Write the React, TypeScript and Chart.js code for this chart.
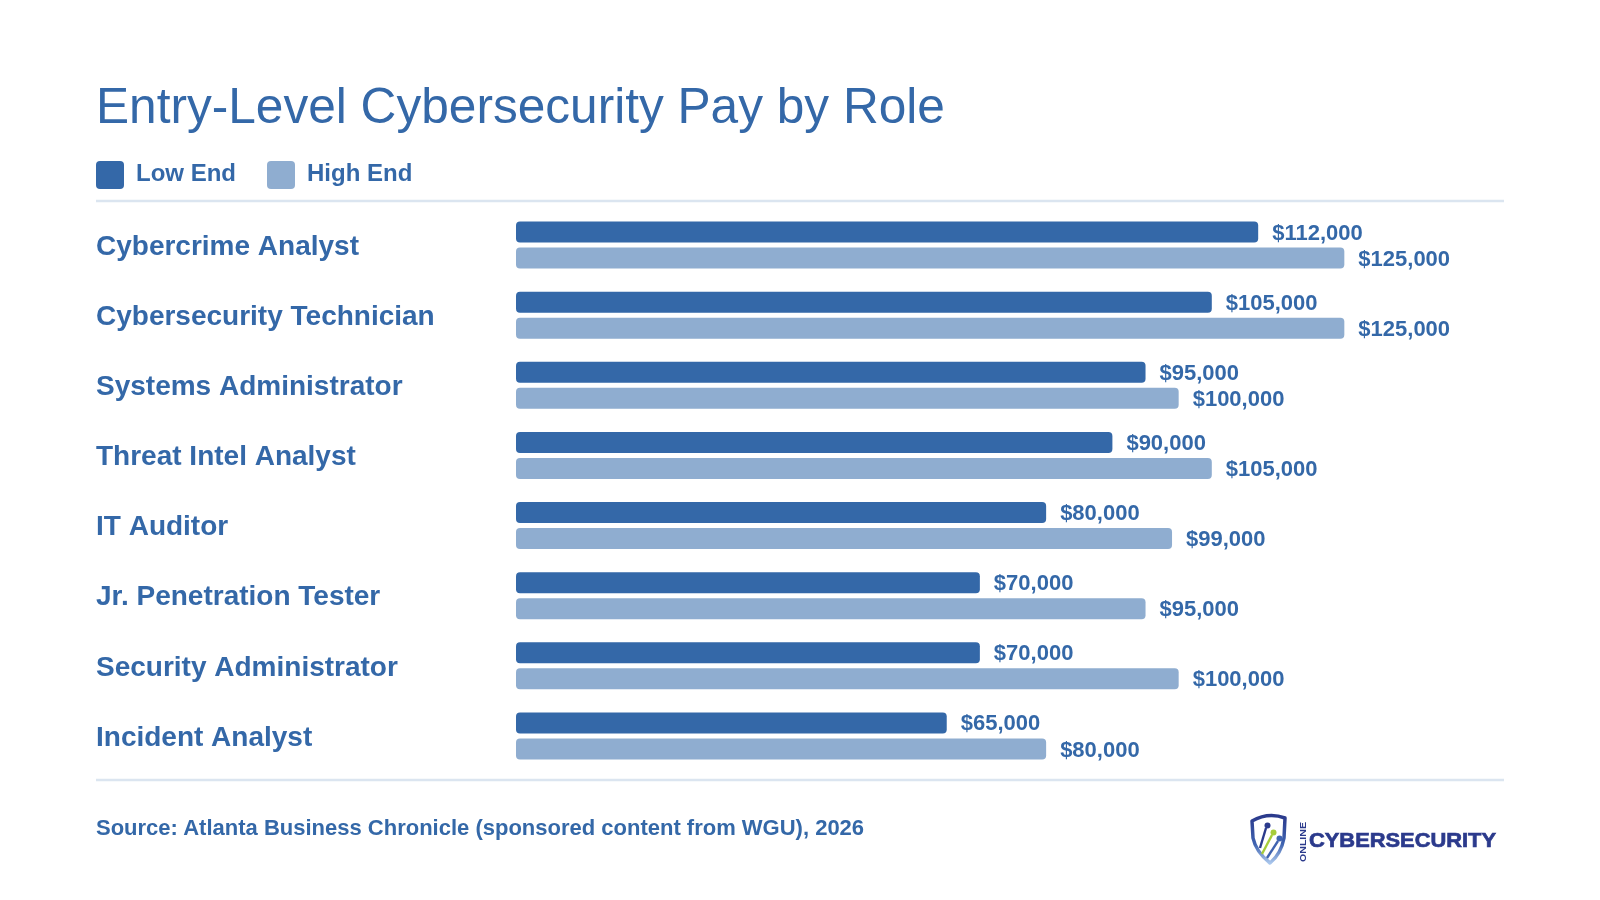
import React, { useEffect, useRef } from "react";
import { Chart, registerables } from "chart.js";

Chart.register(...registerables);

// Entry-level salary ranges by role (USD)
const roles = [
  "Cybercrime Analyst",
  "Cybersecurity Technician",
  "Systems Administrator",
  "Threat Intel Analyst",
  "IT Auditor",
  "Jr. Penetration Tester",
  "Security Administrator",
  "Incident Analyst",
];
const lowEnd = [112000, 105000, 95000, 90000, 80000, 70000, 70000, 65000];
const highEnd = [125000, 125000, 100000, 105000, 99000, 95000, 100000, 80000];
const seriesNames = ["Low End", "High End"];

const TITLE = "Entry-Level Cybersecurity Pay by Role";
const SOURCE = "Source: Atlanta Business Chronicle (sponsored content from WGU), 2026";

const LOW_COLOR = "#3468a8";
const HIGH_COLOR = "#8fadd0";
const TEXT_COLOR = "#3468a8";
const RULE_COLOR = "#dbe5f0";
const FONT = "'Liberation Sans', Arial, Helvetica, sans-serif";

const money = (v: number) => "$" + v.toLocaleString("en-US");

// Writes the dollar amount just past the end of every bar
const valueLabels = {
  id: "valueLabels",
  afterDatasetsDraw(chart: any) {
    const ctx = chart.ctx;
    ctx.save();
    ctx.font = `bold 22px ${FONT}`;
    ctx.fillStyle = TEXT_COLOR;
    ctx.textAlign = "left";
    ctx.textBaseline = "middle";
    chart.data.datasets.forEach((ds: any, di: number) => {
      const meta = chart.getDatasetMeta(di);
      meta.data.forEach((bar: any, i: number) => {
        ctx.fillText(money(ds.data[i]), bar.x + 14, bar.y + 1.5);
      });
    });
    ctx.restore();
  },
};

function PayChart() {
  const ref = useRef<HTMLCanvasElement | null>(null);

  useEffect(() => {
    if (!ref.current) return;
    const chart = new Chart(ref.current, {
      type: "bar",
      data: {
        labels: roles,
        datasets: [
          {
            label: seriesNames[0],
            data: lowEnd,
            backgroundColor: LOW_COLOR,
            borderRadius: 4,
            borderSkipped: false,
            categoryPercentage: 0.742,
            barPercentage: 0.808,
          },
          {
            label: seriesNames[1],
            data: highEnd,
            backgroundColor: HIGH_COLOR,
            borderRadius: 4,
            borderSkipped: false,
            categoryPercentage: 0.742,
            barPercentage: 0.808,
          },
        ],
      },
      options: {
        indexAxis: "y",
        responsive: false,
        animation: false,
        devicePixelRatio: 1,
        layout: { padding: { left: 96, right: 90, top: 210, bottom: 129 } },
        scales: {
          x: { display: false, min: 0, max: 150000 },
          y: {
            grid: { display: false },
            border: { display: false },
            ticks: {
              crossAlign: "far",
              color: TEXT_COLOR,
              padding: 0,
              labelOffset: 2,
              font: { family: FONT, size: 28, weight: "bold" },
            },
            afterFit: (scale: any) => {
              scale.width = 420;
            },
          },
        },
        plugins: {
          legend: { display: false },
          tooltip: { enabled: false },
        },
      },
      plugins: [valueLabels],
    } as any);
    return () => chart.destroy();
  }, []);

  return (
    <canvas
      ref={ref}
      width={1600}
      height={900}
      style={{ position: "absolute", left: 0, top: 0, width: 1600, height: 900 }}
    />
  );
}

function Heading() {
  return (
    <svg
      width={1600}
      height={900}
      style={{ position: "absolute", left: 0, top: 0, pointerEvents: "none" }}
    >
      <defs>
        <linearGradient id="shieldGrad" x1="0" y1="0" x2="0" y2="1">
          <stop offset="0" stopColor="#2b3a8c" />
          <stop offset="0.6" stopColor="#3f63b0" />
          <stop offset="1" stopColor="#a9c6ec" />
        </linearGradient>
      </defs>

      <text x={96} y={122.5} fill={TEXT_COLOR} fontFamily={FONT} fontSize={49.6}>
        {TITLE}
      </text>

      <rect x={96} y={161} width={28} height={28} rx={4} fill={LOW_COLOR} />
      <text x={136} y={181} fill={TEXT_COLOR} fontFamily={FONT} fontSize={24} fontWeight="bold">
        {seriesNames[0]}
      </text>
      <rect x={267} y={161} width={28} height={28} rx={4} fill={HIGH_COLOR} />
      <text x={307} y={181} fill={TEXT_COLOR} fontFamily={FONT} fontSize={24} fontWeight="bold">
        {seriesNames[1]}
      </text>

      <line x1={96} y1={201} x2={1504} y2={201} stroke={RULE_COLOR} strokeWidth={2.5} />
      <line x1={96} y1={780} x2={1504} y2={780} stroke={RULE_COLOR} strokeWidth={2.5} />

      <text x={96} y={835} fill={TEXT_COLOR} fontFamily={FONT} fontSize={22} fontWeight="bold">
        {SOURCE}
      </text>

      {/* brand mark */}
      <path
        d="M1252,821 Q1268,812 1285,818 L1284,838 Q1281,854 1270,863 Q1256,852 1253,838 Z"
        fill="none"
        stroke="url(#shieldGrad)"
        strokeWidth={3.5}
        strokeLinejoin="round"
      />
      <line x1={1260} y1={848} x2={1266} y2={828} stroke="#2b3a8c" strokeWidth={2.4} />
      <circle cx={1267.5} cy={825.5} r={3} fill="#2b3a8c" />
      <line x1={1262} y1={854} x2={1272} y2={835} stroke="#a6cc3a" strokeWidth={2.4} />
      <circle cx={1273.5} cy={832.5} r={3} fill="#a6cc3a" />
      <line x1={1267} y1={858} x2={1278} y2={841} stroke="#3f63b0" strokeWidth={2.4} />
      <circle cx={1279.5} cy={838.5} r={3} fill="#3f63b0" />
      <text
        transform="translate(1306 862) rotate(-90)"
        x={0}
        y={0}
        fill="#2b3a8c"
        fontFamily={FONT}
        fontSize={9}
        fontWeight="bold"
        textLength={40}
        lengthAdjust="spacingAndGlyphs"
      >
        ONLINE
      </text>
      <text
        x={1309}
        y={847}
        fill="#2b3a8c"
        stroke="#2b3a8c"
        strokeWidth={0.7}
        fontFamily={FONT}
        fontSize={21}
        fontWeight="bold"
        textLength={187}
        lengthAdjust="spacingAndGlyphs"
      >
        CYBERSECURITY
      </text>
    </svg>
  );
}

export default function App() {
  return (
    <div
      style={{
        position: "absolute",
        left: 0,
        top: 0,
        width: 1600,
        height: 900,
        background: "#ffffff",
        overflow: "hidden",
      }}
    >
      <PayChart />
      <Heading />
    </div>
  );
}
